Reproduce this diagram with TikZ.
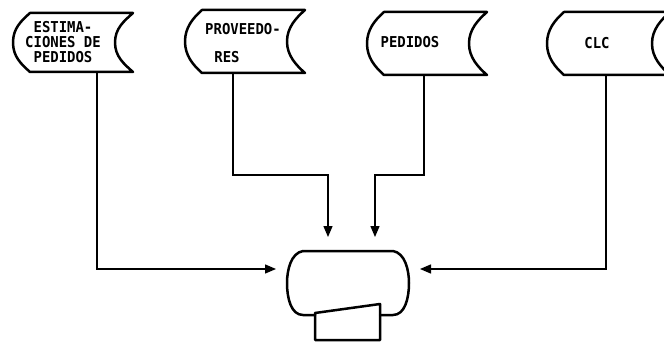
\documentclass[tikz,border=0pt]{standalone}
\usepackage{fontspec}
\newfontfamily\dmfont{DejaVu Sans Mono}[FakeStretch=0.93]
\usetikzlibrary{arrows.meta,calc}
\tikzset{
  shp/.style={line width=2.5pt, line join=round, line cap=round},
  conn/.style={line width=1.4pt, -{Triangle[length=11pt,width=9pt]}},
  lbl/.style={font=\dmfont\bfseries\fontsize{15}{15}\selectfont, inner sep=0pt, align=center},
  box/.style={inner sep=0pt, outer sep=0pt, draw=none}
}
\newcommand\sdshape[5]{%
  \node[box, minimum width={#3-#2}, minimum height={#5-#4}] (#1) at ({(#2+#3)/2},{(#4+#5)/2}) {};
  \draw[shp] ({#2+17},#4) -- (#3,#4)
    .. controls ({#3-9},{#4+8}) and ({#3-18},{(#4+#5)/2-14}) .. ({#3-18},{(#4+#5)/2})
    .. controls ({#3-18},{(#4+#5)/2+14}) and ({#3-9},{#5-8}) .. (#3,#5)
    -- ({#2+17},#5)
    .. controls ({#2+8},{#5-8}) and (#2,{(#4+#5)/2+14}) .. (#2,{(#4+#5)/2})
    .. controls (#2,{(#4+#5)/2-14}) and ({#2+8},{#4+8}) .. cycle;
}
\begin{document}
\begin{tikzpicture}[x=1pt,y=-1pt]
\useasboundingbox (0,0) rectangle (664,342);
% stored data shapes
\sdshape{s1}{13}{133}{13}{72}
\sdshape{s2}{185}{305}{10}{73}
\sdshape{s3}{367}{487}{12}{75}
\sdshape{s4}{547}{670}{12}{75}
% labels
\node[lbl] (l1) at (63,42) {ESTIMA-\\CIONES DE\\PEDIDOS};
\node[lbl] (l2a) at (243,29) {PROVEEDO-};
\node[lbl] (l2b) at (227,57) {RES};
\node[lbl] (l3) at (410,42) {PEDIDOS};
\node[lbl] (l4) at (597,43) {CLC};
% bottom device
\node[box, minimum width=122, minimum height=64] (disk) at (348,283) {};
\draw[shp] (303,251) -- (393,251)
  .. controls (405,253) and (409,270) .. (409,283)
  .. controls (409,298) and (405,315) .. (393,315) -- (380,315);
\draw[shp] (315,315) -- (303,315)
  .. controls (291,315) and (287,298) .. (287,283)
  .. controls (287,270) and (291,253) .. (303,251);
\draw[shp] (315,313) -- (380,304) -- (380,340) -- (315,340) -- cycle;
% arrow tips
\coordinate (t1) at (276,269);
\coordinate (t2) at (328,237);
\coordinate (t3) at (375,237);
\coordinate (t4) at (420,269);
% connectors
\draw[conn] (s1.south west) ++(84,0) |- (t1);
\draw[conn] (s2.south west) ++(48,0) -- ++(0,102) -| (t2);
\draw[conn] (s3.south west) ++(57,0) -- ++(0,100) -| (t3);
\draw[conn] (s4.south west) ++(59,0) |- (t4);
\end{tikzpicture}
\end{document}
